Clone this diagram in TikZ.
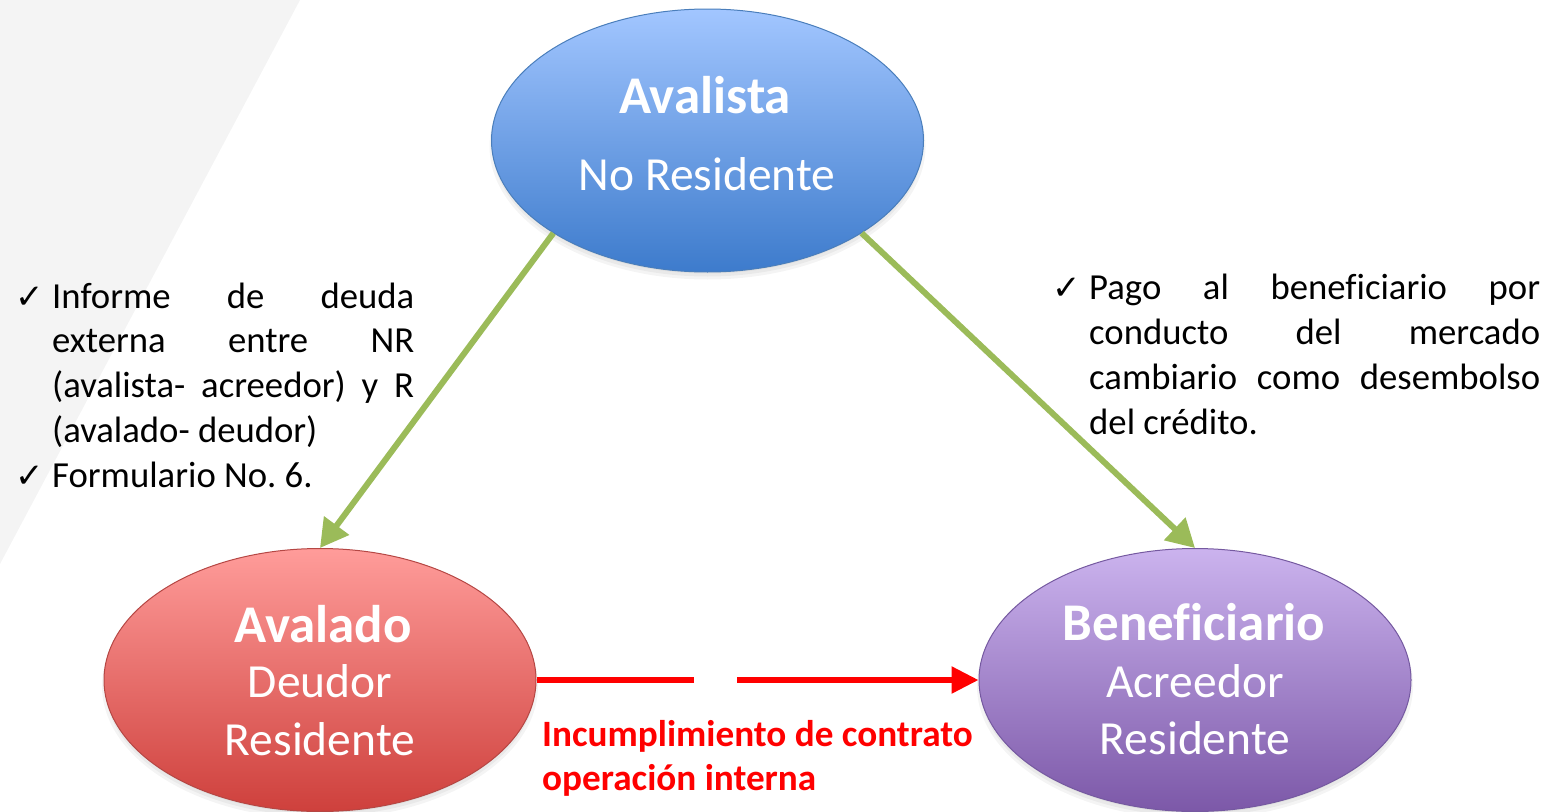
\documentclass[tikz,border=0pt]{standalone}
\usepackage{fontspec}
\setmainfont{Carlito}[Ligatures=NoCommon]
\newfontfamily\chkfont{DejaVu Sans}
\usetikzlibrary{shapes.geometric,arrows.meta}
\frenchspacing
\definecolor{bggray}{HTML}{F4F4F4}
\definecolor{blueTop}{HTML}{A2C6FF}
\definecolor{blueBot}{HTML}{3D7BCC}
\definecolor{blueLine}{HTML}{4A7EBB}
\definecolor{redTop}{HTML}{FF9C9A}
\definecolor{redBot}{HTML}{CE403C}
\definecolor{redLine}{HTML}{B54744}
\definecolor{purTop}{HTML}{CBB3EE}
\definecolor{purBot}{HTML}{7C58A8}
\definecolor{purLine}{HTML}{7559A0}
\definecolor{arrowGreen}{HTML}{9BBB59}
\definecolor{alertRed}{HTML}{FF0000}
\newcommand{\chk}{\llap{{\chkfont\fontsize{34}{40}\selectfont ✓}\hspace{8pt}}}
\begin{document}
\begin{tikzpicture}[x=1pt,y=-1pt,
  bubble/.style={ellipse,draw,line width=1pt,inner sep=0pt,minimum width=432pt,minimum height=263pt},
  titletxt/.style={anchor=base,text=white,font=\fontsize{53}{60}\selectfont\bfseries,inner sep=0pt},
  subtxt/.style={anchor=base,text=white,font=\fontsize{47.5}{56}\selectfont,inner sep=0pt},
  bodytxt/.style={anchor=base west,inner sep=0pt,align=left,font=\fontsize{36.7}{44.7}\selectfont\frenchspacing},
  garrow/.style={draw=arrowGreen,line width=6pt,-{Triangle[length=28pt,width=30pt]}},
  rline/.style={draw=alertRed,line width=5.5pt},
  shadowlayer/.style={fill=black,opacity=0.045}]
\useasboundingbox (0,0) rectangle (1555,811);
\fill[bggray] (0,0) -- (300,0) -- (0,564) -- cycle;
% soft shadows
\foreach \cx/\cy in {707.5/140.5,320/680,1195/680}{
  \foreach \d in {0,3,6,9}{
    \fill[shadowlayer] (\cx,\cy+6) ellipse ({218pt-\d pt} and {133pt-\d pt});
  }
}
\node[bubble,draw=blueLine,top color=blueTop,bottom color=blueBot] (avalista) at (707.5,140.5) {};
\node[bubble,draw=redLine,top color=redTop,bottom color=redBot] (avalado) at (320,680) {};
\node[bubble,draw=purLine,top color=purTop,bottom color=purBot] (benef) at (1195,680) {};
% texts inside
\node[titletxt] (t1) at (705,113) {Avalista};
\node[subtxt] (s1) at (707,190) {No Residente};
\node[titletxt] (t2) at (323,642) {Avalado};
\node[subtxt] (s2a) at (320,697) {Deudor};
\node[subtxt] (s2b) at (320,755) {Residente};
\node[titletxt] (t3) at (1194,640) {Beneficiario};
\node[subtxt] (s3a) at (1195,697) {Acreedor};
\node[subtxt] (s3b) at (1195,754) {Residente};
% arrows
\draw[garrow] (avalista.211) -- (avalado.north);
\draw[garrow] (avalista.329) -- (benef.north);
\coordinate (g1) at (694,680);
\coordinate (g2) at (737,680);
\draw[rline] (avalado.east) -- (g1);
\draw[rline,-{Triangle[length=27pt,width=26pt]}] (g2) -- (benef.west);
% side texts
\node[bodytxt] (left) at (52,487) {\chk\makebox[362pt][s]{Informe de deuda}\\
\makebox[362pt][s]{externa entre NR}\\
\makebox[362pt][s]{(avalista- acreedor) y R}\\
(avalado- deudor)\\
\chk Formulario No. 6.};
\node[bodytxt] (right) at (1089,434) {\chk\makebox[451pt][s]{Pago al beneficiario por}\\
\makebox[451pt][s]{conducto del mercado}\\
\makebox[451pt][s]{cambiario como desembolso}\\
del crédito.};
\node[bodytxt,text=alertRed,font=\fontsize{37.2}{44}\selectfont\bfseries] (red) at (542,790) {Incumplimiento de contrato\\operación interna};
\end{tikzpicture}
\end{document}
